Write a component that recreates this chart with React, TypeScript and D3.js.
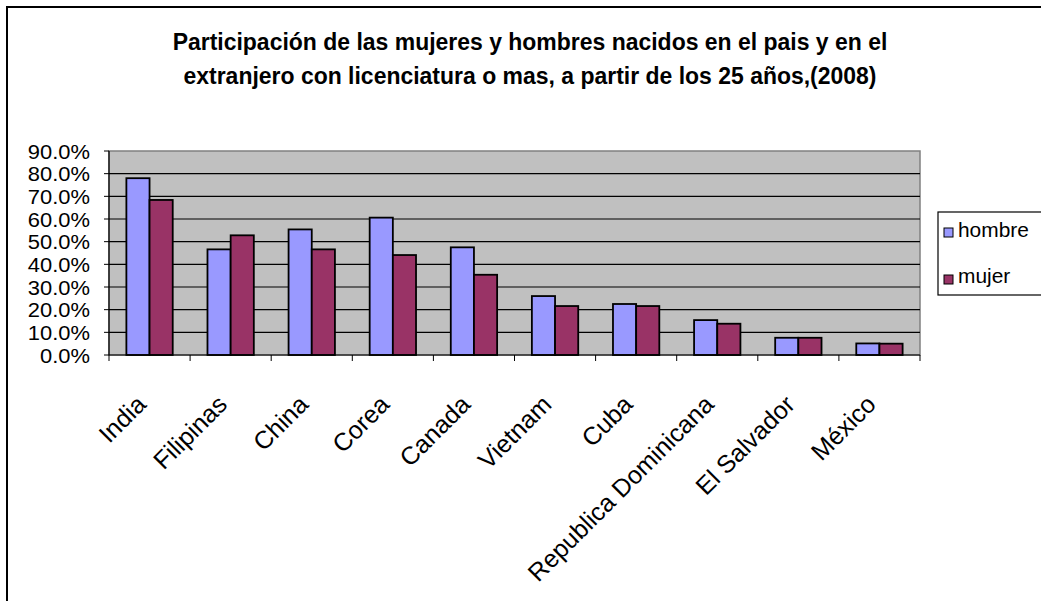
import * as d3 from 'd3';
import React from 'react';

const titleLines = [
  'Participación de las mujeres y hombres nacidos en el pais y en el',
  'extranjero con licenciatura o mas, a partir de los 25 años,(2008)',
];
const countries = ['India', 'Filipinas', 'China', 'Corea', 'Canada', 'Vietnam', 'Cuba', 'Republica Dominicana', 'El Salvador', 'México'];
const hombre = [78.0, 46.6, 55.4, 60.6, 47.5, 26.0, 22.5, 15.4, 7.6, 5.1];
const mujer = [68.4, 52.8, 46.6, 44.1, 35.4, 21.6, 21.6, 13.8, 7.6, 5.0];
const seriesNames = ['hombre', 'mujer'];
const seriesColors = ['#9999FF', '#993366'];
const yTicks = [0, 10, 20, 30, 40, 50, 60, 70, 80, 90];

const W = 1041;
const H = 601;
const plot = { left: 109, right: 920, top: 151, bottom: 355 };
const font = 'Arial, "Liberation Sans", sans-serif';

export default function App() {
  const x = d3.scaleBand<string>()
    .domain(countries)
    .range([plot.left, plot.right]);
  const inner = d3.scaleBand<string>()
    .domain(seriesNames)
    .range([0, x.bandwidth()])
    .paddingInner(0)
    .paddingOuter(0.75);
  const y = d3.scaleLinear()
    .domain([0, 90])
    .range([plot.bottom, plot.top]);

  const values = [hombre, mujer];

  return (
    <svg width={W} height={H} style={{ position: 'absolute', left: 0, top: 0, background: '#fff' }}>
      <rect x={7} y={7} width={1100} height={700} fill="#fff" stroke="#000" strokeWidth={2} />

      {titleLines.map((t, i) => (
        <text key={i} transform={`translate(530, ${50 + i * 34}) scale(1.03,1.05)`}
          textAnchor="middle" fontFamily={font} fontWeight="bold" fontSize={22.3}>{t}</text>
      ))}

      <rect x={plot.left} y={plot.top} width={plot.right - plot.left} height={plot.bottom - plot.top}
        fill="#C0C0C0" stroke="#808080" strokeWidth={1.5} />

      {yTicks.filter(v => v > 0 && v < 90).map(v => (
        <line key={v} x1={plot.left} x2={plot.right} y1={y(v)} y2={y(v)} stroke="#000" strokeWidth={1.2} />
      ))}

      {countries.map((c, i) => (
        <g key={c}>
          {seriesNames.map((s, j) => (
            <rect key={s}
              x={(x(c) as number) + (inner(s) as number)}
              y={y(values[j][i])}
              width={inner.bandwidth()}
              height={plot.bottom - y(values[j][i])}
              fill={seriesColors[j]} stroke="#000" strokeWidth={1.8} />
          ))}
        </g>
      ))}

      {/* axes */}
      <line x1={plot.left} x2={plot.left} y1={plot.top} y2={plot.bottom} stroke="#000" strokeWidth={1.2} />
      <line x1={plot.left} x2={plot.right} y1={plot.bottom} y2={plot.bottom} stroke="#000" strokeWidth={1.2} />
      {yTicks.map(v => (
        <g key={v}>
          <line x1={plot.left - 5} x2={plot.left} y1={y(v)} y2={y(v)} stroke="#000" />
          <text transform={`translate(${plot.left - 19}, ${y(v) + 7.5}) scale(1.07,1)`}
            textAnchor="end" fontFamily={font} fontSize={20.5}>{d3.format('.1f')(v)}%</text>
        </g>
      ))}
      {countries.concat(['']).map((c, i) => {
        const xx = plot.left + i * x.step();
        return <line key={i} x1={xx} x2={xx} y1={plot.bottom} y2={plot.bottom + 6} stroke="#000" />;
      })}
      {countries.map(c => {
        const cx = (x(c) as number) + x.bandwidth() / 2;
        return (
          <text key={c} transform={`translate(${cx - 2}, ${plot.bottom + 51}) rotate(-45)`}
            textAnchor="end" fontFamily={font} fontSize={25}>{c}</text>
        );
      })}

      {/* legend */}
      <rect x={938} y={212} width={120} height={83} fill="#fff" stroke="#000" strokeWidth={1.2} />
      {seriesNames.map((s, j) => (
        <g key={s}>
          <rect x={944} y={228 + j * 47} width={9} height={9} fill={seriesColors[j]} stroke="#000" />
          <text transform={`translate(958, ${237 + j * 46}) scale(1.1,1.05)`}
            fontFamily={font} fontSize={19}>{s}</text>
        </g>
      ))}
    </svg>
  );
}
